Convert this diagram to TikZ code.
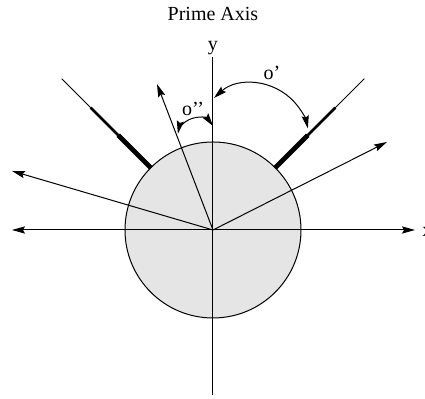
\documentclass[tikz,border=0pt]{standalone}
\usepackage{fontspec}
\setmainfont{Liberation Serif}
\usetikzlibrary{arrows.meta}
\begin{document}
\begin{tikzpicture}[x=0.5pt,y=0.5pt,line width=0.5pt,
    tip/.style={-{Stealth[length=6.5pt,width=3.6pt,inset=1pt]}},
    twotip/.style={{Stealth[length=6.5pt,width=3.6pt,inset=1pt]}-{Stealth[length=6.5pt,width=3.6pt,inset=1pt]}}]
    \useasboundingbox (-213,-169) rectangle (212,230);
    \node (title) at (0,216) {Prime Axis};
    \coordinate (O) at (0,0);
    \filldraw[fill=black!10] (O) circle[radius=88];
    \coordinate (xl) at (-201,0);
    \coordinate (xr) at (202,0);
    \draw[twotip] (xl) -- (xr);
    \node[anchor=west, inner sep=0pt] (xlab) at (209,-2) {x};
    \coordinate (yb) at (0,-165);
    \coordinate (yt) at (0,173);
    \draw (yb) -- (yt) node[above, inner sep=1pt] (ylab) {y};
    \coordinate (ul) at (-201,59);
    \coordinate (ur) at (174,88);
    \coordinate (un) at (-56,146);
    \draw[tip] (O) -- (ul);
    \draw[tip] (O) -- (ur);
    \draw[tip] (O) -- (un);
    \foreach \a/\s in {135/l,45/r} {
        \coordinate (s\s1) at (\a:88);
        \coordinate (s\s2) at (\a:134);
        \coordinate (s\s3) at (\a:173);
        \coordinate (s\s4) at (\a:214);
        \draw[line width=2.4pt] (s\s1) -- (s\s2);
        \draw[line width=1.4pt] (s\s2) -- (s\s3);
        \draw (s\s3) -- (s\s4);
    }
    \coordinate (pa) at (1,132);
    \draw[twotip] (pa) arc[start angle=132, end angle=12, radius=57];
    \coordinate (pb) at (0,104);
    \draw[twotip] (pb) arc[start angle=36, end angle=169, radius=19.6];
    \node (oa) at (59,157) {o'};
    \node (ob) at (-20,121) {o'{}'};
\end{tikzpicture}
\end{document}
